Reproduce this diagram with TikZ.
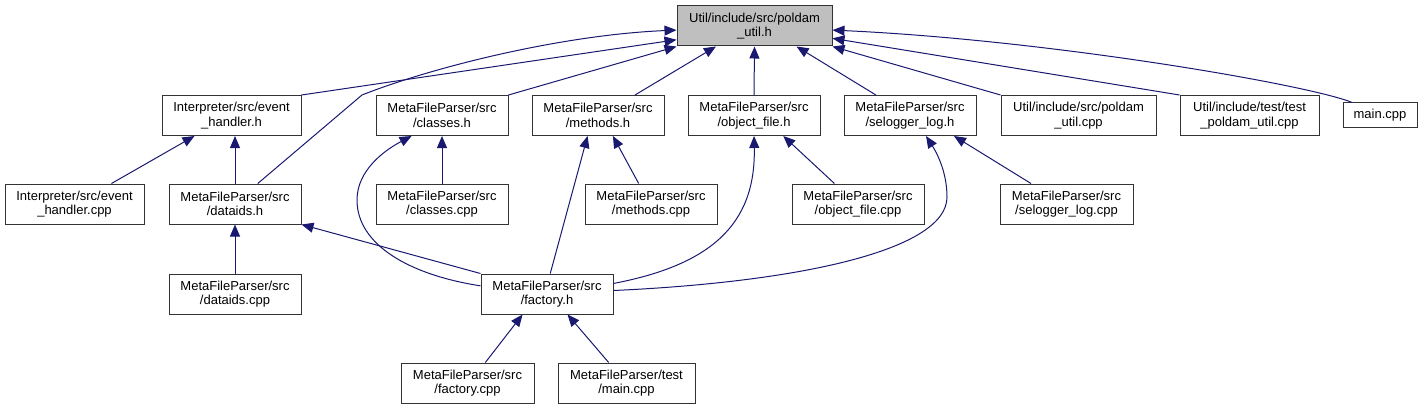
\documentclass[tikz,border=0pt]{standalone}
\usepackage{fontspec}
\setmainfont{Liberation Sans}
\usetikzlibrary{arrows.meta,positioning}
\definecolor{ec}{RGB}{25,25,112}
\definecolor{rootc}{RGB}{191,191,191}
\tikzset{file/.style={draw=black!80,fill=white,line width=1pt,minimum width=132pt,minimum height=40pt,inner sep=0pt,align=center,font=\fontsize{13}{14.5}\selectfont},
 top/.style={file,fill=rootc,minimum width=155pt},
 dep/.style={draw=ec,line width=1pt,-{Triangle[length=12pt,width=10pt]}}}
\begin{document}
\begin{tikzpicture}[x=1pt,y=-1pt]
\useasboundingbox (0,0) rectangle (1423,409);
% root
\node[top] (root) at (754.5,26) {Util/include/src/poldam\\\_util.h};
% first row
\node[file,minimum width=139pt] (eh) at (231.5,115.5) {Interpreter/src/event\\\_handler.h};
\node[file] (cl) at (442,115.5) {MetaFileParser/src\\/classes.h};
\node[file] (me) at (598,115.5) {MetaFileParser/src\\/methods.h};
\node[file] (of) at (754,115.5) {MetaFileParser/src\\/object\_file.h};
\node[file] (sl) at (910,115.5) {MetaFileParser/src\\/selogger\_log.h};
\node[file,minimum width=155pt] (uc) at (1078.5,115.5) {Util/include/src/poldam\\\_util.cpp};
\node[file,minimum width=139pt] (tu) at (1249.5,115.5) {Util/include/test/test\\\_poldam\_util.cpp};
\node[file,minimum width=74pt,minimum height=25pt] (mc) at (1380,115.5) {main.cpp};
% second row
\node[file,minimum width=139pt] (ehc) at (74.5,204) {Interpreter/src/event\\\_handler.cpp};
\node[file] (di) at (235,204) {MetaFileParser/src\\/dataids.h};
\node[file] (clc) at (442,204) {MetaFileParser/src\\/classes.cpp};
\node[file] (mec) at (651,204) {MetaFileParser/src\\/methods.cpp};
\node[file] (ofc) at (858,204) {MetaFileParser/src\\/object\_file.cpp};
\node[file,minimum width=133pt] (slc) at (1066.5,204) {MetaFileParser/src\\/selogger\_log.cpp};
% third and fourth rows
\node[file] (dic) at (235,294) {MetaFileParser/src\\/dataids.cpp};
\node[file] (fa) at (547,294) {MetaFileParser/src\\/factory.h};
\node[file,minimum width=133pt] (fac) at (467.5,383) {MetaFileParser/src\\/factory.cpp};
\node[file,minimum width=137pt] (tm) at (626.5,383) {MetaFileParser/test\\/main.cpp};
% edges to the root
\draw[dep] (di.42) -- (362,95) .. controls (430,68) and (560,35) .. (root.183);
\draw[dep] (eh.north east) -- (root.190);
\draw[dep] (cl.north east) -- (root.south west);
\draw[dep] (me.29) -- (root.208);
\draw[dep] (of.north) -- (root.south);
\draw[dep] (sl.149) -- (root.-26);
\draw[dep] (uc.north west) -- (root.south east);
\draw[dep] (tu.north west) -- (root.-9.5);
\draw[dep] (mc.155) .. controls (1310,85) and (1050,40) .. (root.-3);
% lower edges
\draw[dep] (ehc.29) -- (eh.209.5);
\draw[dep] (di.north) -- (di.north |- eh.south);
\draw[dep] (clc.north) -- (cl.south);
\draw[dep] (mec.121) -- (me.-54);
\draw[dep] (ofc.139) -- (of.-35);
\draw[dep] (slc.150) -- (sl.-25);
\draw[dep] (dic.north) -- (di.south);
\draw[dep] (fa.north west) -- (di.south east);
\draw[dep] (fa.173) .. controls (410,275) and (357,245) .. (357,200) .. controls (357,170) and (385,150) .. (cl.214);
\draw[dep] (fa.81) -- (me.243);
\draw[dep] (fa.9.5) .. controls (710,265) and (756,225) .. (of.south);
\draw[dep] (fa.3) .. controls (800,282) and (947,250) .. (947,197) .. controls (947,170) and (935,150) .. (sl.-52);
\draw[dep] (fac.49) -- (fa.220);
\draw[dep] (tm.131) -- (fa.-45);
\end{tikzpicture}
\end{document}
